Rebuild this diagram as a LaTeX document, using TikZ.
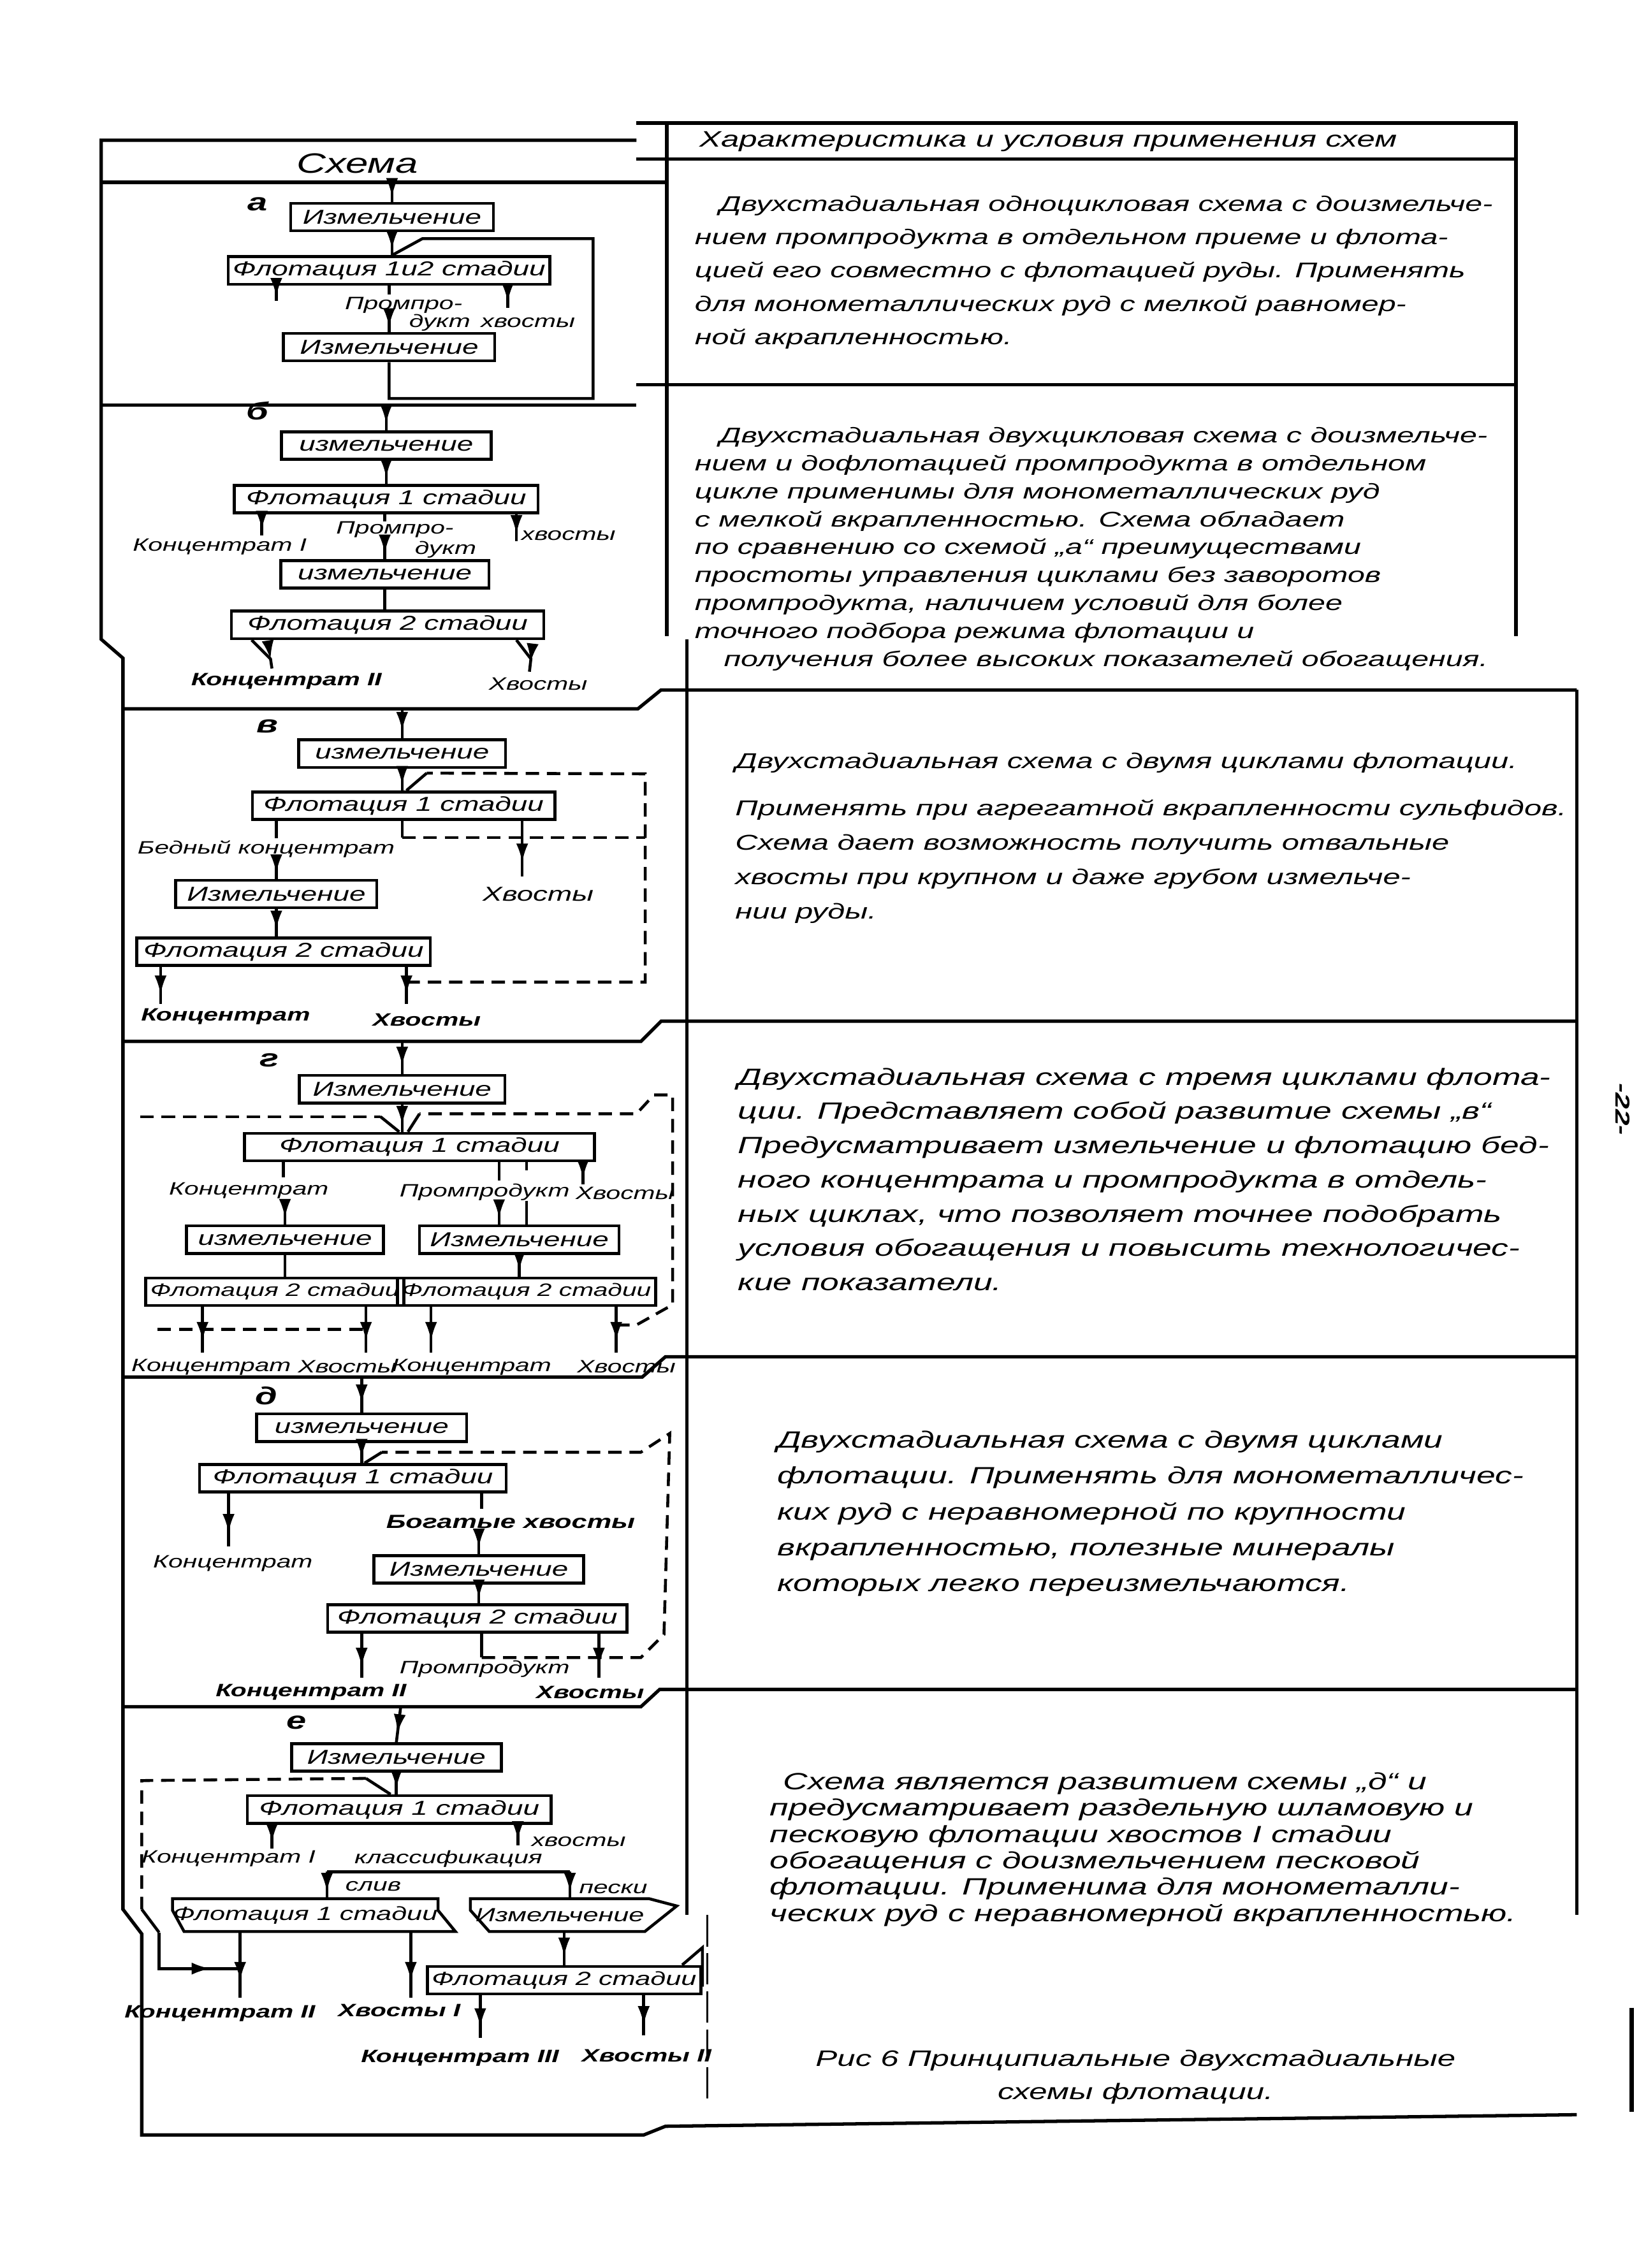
\documentclass[tikz,border=0pt]{standalone}
\usepackage{fontspec}
\setmainfont{Liberation Sans}[FakeStretch=1.45]
\usetikzlibrary{positioning,arrows.meta,calc,decorations.markings}
\newcommand\uu{0.0227cm}

\begin{document}
\begin{tikzpicture}[
  x=0.0227cm, y=-0.0227cm,
  font=\itshape\fontsize{9}{10}\selectfont,
  frm/.style={line width=1.5pt},
  ln/.style={line width=1.3pt},
  box/.style={draw,line width=1.3pt,inner xsep=2pt,inner ysep=0pt,
              minimum height={19*\uu}},
  lbl/.style={inner sep=0pt,align=left,font=\itshape\fontsize{8}{9}\selectfont},
  txt/.style={anchor=north west,inner sep=0pt,align=left},
  ar/.style={ln,postaction={decorate},
             decoration={markings,mark=at position 0.75 with
             {\arrow{Latex[length=3mm,width=1.9mm]}}}},
  rc/.style={ln,dash pattern=on 6pt off 3.5pt},
  tag/.style={inner sep=0pt,font=\itshape\bfseries\fontsize{11}{12}\selectfont}
]
\useasboundingbox (0,0) rectangle (1133,1568);

% table frame
\draw[frm] (440,97) -- (70,97) -- (70,442) -- (85,455) -- (85,1320) -- (98,1337)
  -- (98,1476) -- (445,1476) -- (460,1470) -- (1090,1462);
\draw[frm] (440,85) -- (1048,85) -- (1048,440);
\draw[frm] (440,110) -- (1048,110);
\draw[frm] (70,126) -- (461,126);
\draw[frm] (461,85) -- (461,440);
\draw[frm] (475,442) -- (475,1324);
\draw[line width=0.8pt,dash pattern=on 14pt off 3pt] (489,1324) -- (489,1455);
\draw[frm] (1090,477) -- (1090,1324);
\draw[frm] (70,280) -- (440,280);
\draw[frm] (440,266) -- (1048,266);
\draw[frm] (85,490) -- (441,490) -- (457,477) -- (1090,477);
\draw[frm] (85,720) -- (443,720) -- (457,706) -- (1090,706);
\draw[frm] (85,952) -- (444,952) -- (460,938) -- (1090,938);
\draw[frm] (85,1180) -- (443,1180) -- (456,1168) -- (1090,1168);
\draw[line width=2pt] (1128,1388) -- (1128,1460);

% header
\node[font=\itshape\fontsize{12.5}{14}\selectfont] (hs) at (247,113) {Схема};
\node[anchor=west,font=\itshape\fontsize{10}{12}\selectfont] (hc) at (478,98)
  {Характеристика и условия применения схем};
\node[rotate=-90,font=\itshape\bfseries\fontsize{9}{10}\selectfont] (pg) at (1122,767) {-22-};

% scheme a
\node[tag] (ta) at (178,141) {а};
\coordinate (aIn) at (271,127);
\node[box,minimum width={140*\uu}] (a1) at (271,150) {Измельчение};
\node[box,minimum width={215*\uu}] (a2) at (269,187) {Флотация 1и2 стадии};
\node[box,minimum width={146*\uu}] (a3) at (269,240) {Измельчение};
\node[lbl] (aP) at (279,211) {Промпро-};
\node[lbl] (aD) at (304,223) {дукт};
\node[lbl] (aX) at (365,223) {хвосты};
\coordinate (aR) at (410,165);
\coordinate (aK) at (191,208);
\coordinate (aXa) at (351,213);
\draw[ar] (aIn) -- (a1.north);
\draw[ar] (a1) -- (a1 |- a2.north);
\draw[ar] (aK |- a2.south) -- (aK);
\draw[ar] (aXa |- a2.south) -- (aXa);
\draw[ln] (a2.south -| a3) -- ++(0,6);
\draw[ar] (a3 |- aD.north) -- (a3.north);
\draw[ln] (a3.south) -- ++(0,25) -| (aR) -- ++(-118,0) -- ($(a2.north)+(2,0)$);

% scheme b
\node[tag] (tb) at (178,284) {б};
\coordinate (bIn) at (267,280);
\node[box,minimum width={145*\uu}] (b1) at (267,308) {измельчение};
\node[box,minimum width={210*\uu}] (b2) at (267,345) {Флотация 1 стадии};
\node[lbl] (bK) at (152,378) {Концентрат I};
\node[lbl] (bP) at (273,366) {Промпро-};
\node[lbl] (bD) at (308,380) {дукт};
\node[lbl] (bX) at (393,370) {хвосты};
\node[box,minimum width={144*\uu}] (b3) at (266,397) {измельчение};
\node[box,minimum width={216*\uu}] (b4) at (268,432) {Флотация 2 стадии};
\node[lbl,font=\itshape\bfseries\fontsize{8}{9}\selectfont] (bK2) at (198,471) {Концентрат II};
\node[lbl] (bX2) at (372,473) {Хвосты};
\coordinate (bk) at (181,370);
\coordinate (bx) at (357,374);
\draw[ar] (bIn) -- (b1.north);
\draw[ar] (b1) -- (b1 |- b2.north);
\draw[ar] (bk |- b2.south) -- (bk);
\draw[ar] (bx |- b2.south) -- (bx);
\draw[ln] (b2.south -| b3) -- ++(0,5);
\draw[ar] (b3 |- bP.south) -- (b3.north);
\draw[ln] (b3) -- (b3 |- b4.north);
\draw[ar] ($(b4.south west)+(15,0)$) -- ++(13,13) -- ($(bK2.north)+(-10,-3)$);
\draw[ar] ($(b4.south east)+(-20,0)$) -- ++(10,13) -- ($(bX2.north)+(-6,-4)$);

% scheme v
\node[tag] (tv) at (185,502) {в};
\coordinate (cIn) at (278,490);
\node[box,minimum width={143*\uu}] (c1) at (278,521) {измельчение};
\node[box,minimum width={209*\uu}] (c2) at (279,557) {Флотация 1 стадии};
\node[lbl] (cB) at (184,587) {Бедный концентрат};
\node[lbl,font=\itshape\fontsize{9}{10}\selectfont] (cX) at (372,618) {Хвосты};
\node[box,minimum width={139*\uu}] (c3) at (191,618) {Измельчение};
\node[box,minimum width={203*\uu}] (c4) at (196,658) {Флотация 2 стадии};
\node[lbl,font=\itshape\bfseries\fontsize{8}{9}\selectfont] (cK) at (156,703) {Концентрат};
\node[lbl,font=\itshape\bfseries\fontsize{8}{9}\selectfont] (cX2) at (295,705) {Хвосты};
\coordinate (cR) at (446,579);
\coordinate (cR1) at (446,535);
\coordinate (cR2) at (446,679);
\coordinate (cx) at (361,606);
\coordinate (ck) at (111,694);
\coordinate (cx2) at (281,694);
\draw[ar] (cIn) -- (c1.north);
\draw[ar] (c1) -- (c1 |- c2.north);
\draw[ln] (c3 |- c2.south) -- ++(0,12);
\draw[ar] (c3 |- cB.south) -- (c3.north);
\draw[ar] (c3) -- (c3 |- c4.north);
\draw[ar] (cx |- c2.south) -- (cx);
\draw[ln] (c1 |- c2.south) -- (c1 |- cR);
\draw[rc] (c1 |- cR) -- (cR);
\draw[rc] (cx2 |- cR2) -- (cR2) -- (cR1) -- ($(c2.north)+(16,-12)$);
\draw[ln] ($(c2.north)+(16,-12)$) -- ($(c2.north)+(2,0)$);
\draw[ar] (ck |- c4.south) -- (ck);
\draw[ar] (cx2 |- c4.south) -- (cx2);

% scheme g
\node[tag] (tg) at (186,733) {г};
\coordinate (dIn) at (278,720);
\node[box,minimum width={142*\uu}] (d1) at (278,753) {Измельчение};
\node[box,minimum width={242*\uu}] (d2) at (290,793) {Флотация 1 стадии};
\node[lbl] (dK) at (172,823) {Концентрат};
\node[lbl] (dP) at (335,824) {Промпродукт};
\node[lbl] (dX) at (432,825) {Хвосты};
\node[box,minimum width={136*\uu}] (d3) at (197,857) {измельчение};
\node[box,minimum width={138*\uu}] (d4) at (359,857) {Измельчение};
\node[box,minimum width={163*\uu},font=\itshape\fontsize{8}{9}\selectfont] (d5) at (190,893) {Флотация 2 стадии};
\node[box,minimum width={165*\uu},font=\itshape\fontsize{8}{9}\selectfont] (d6) at (364,893) {Флотация 2 стадии};
\node[lbl] (dK2) at (146,945) {Концентрат};
\node[lbl] (dX2) at (240,945) {Хвосты};
\node[lbl] (dK3) at (326,945) {Концентрат};
\node[lbl] (dX3) at (433,945) {Хвосты};
\coordinate (dL) at (97,772);
\coordinate (dR) at (440,770);
\coordinate (dk) at (196,814);
\coordinate (dp) at (345,816);
\coordinate (dq) at (364,809);
\coordinate (dx) at (403,819);
\coordinate (dk2) at (140,935);
\coordinate (dx2) at (253,935);
\coordinate (dk3) at (298,935);
\coordinate (dx3) at (426,935);
\draw[ar] (dIn) -- (d1.north);
\draw[ar] (d1) -- (d1 |- d2.north);
\draw[rc] (dL) -- (263,772);
\draw[ln] (263,772) -- ($(d2.north)+(-14,0)$);
\draw[rc] (dx3 |- 0,916) -- (440,916) -- (465,902) -- (465,757) -- (452,757) -- (dR) -- (290,770);
\draw[ln] (290,770) -- ($(d2.north)+(-8,0)$);
\draw[ln] (dk |- d2.south) -- (dk);
\draw[ar] (d3 |- dK.south) -- (d3.north);
\draw[ln] (dp |- d2.south) -- (dp);
\draw[ln] (dq |- d2.south) -- (dq);
\draw[ar] (dp |- dP.south) -- (dp |- d4.north);
\draw[ln] (dq |- dP.south) -- (dq |- d4.north);
\draw[ar] (dx |- d2.south) -- (dx);
\draw[ln] (d3) -- (d3 |- d5.north);
\draw[ar] (d4) -- (d4 |- d6.north);
\draw[ar] (dk2 |- d5.south) -- (dk2);
\draw[ar] (dx2 |- d5.south) -- (dx2);
\draw[rc] (109,919) -- (dx2 |- 0,919);
\draw[ar] (dk3 |- d6.south) -- (dk3);
\draw[ar] (dx3 |- d6.south) -- (dx3);

% scheme d
\node[tag] (td) at (184,965) {д};
\coordinate (eIn) at (250,952);
\node[box,minimum width={145*\uu}] (e1) at (250,987) {измельчение};
\node[box,minimum width={212*\uu}] (e2) at (244,1022) {Флотация 1 стадии};
\node[lbl] (eK) at (161,1081) {Концентрат};
\node[lbl,font=\itshape\bfseries\fontsize{8.5}{9}\selectfont] (eB) at (353,1052) {Богатые хвосты};
\node[box,minimum width={145*\uu}] (e3) at (331,1085) {Измельчение};
\node[box,minimum width={207*\uu}] (e4) at (330,1119) {Флотация 2 стадии};
\node[lbl] (eP) at (335,1154) {Промпродукт};
\node[lbl,font=\itshape\bfseries\fontsize{8}{9}\selectfont] (eK2) at (215,1170) {Концентрат II};
\node[lbl,font=\itshape\bfseries\fontsize{8}{9}\selectfont] (eX) at (408,1170) {Хвосты};
\coordinate (ek) at (158,1069);
\coordinate (eb) at (333,1043);
\coordinate (ek2) at (250,1160);
\coordinate (ex) at (414,1160);
\coordinate (eR) at (443,1146);
\draw[ar] (eIn) -- (e1.north);
\draw[ar] (e1) -- (e1 |- e2.north);
\draw[ar] (ek |- e2.south) -- (ek);
\draw[ln] (eb |- e2.south) -- (eb);
\draw[ar] (e3 |- eB.south) -- (e3.north);
\draw[ar] (e3) -- (e3 |- e4.north);
\draw[ar] (ek2 |- e4.south) -- (ek2);
\draw[ar] (ex |- e4.south) -- (ex);
\draw[ln] (eb |- e4.south) -- (eb |- eR);
\draw[rc] (eb |- eR) -- (eR) -- (459,1130) -- (463,991) -- (443,1004) -- (264,1004);
\draw[ln] (264,1004) -- ($(e2.north)+(8,0)$);

% scheme e
\node[tag] (te) at (205,1191) {е};
\coordinate (fIn) at (277,1180);
\node[box,minimum width={145*\uu}] (f1) at (274,1215) {Измельчение};
\node[box,minimum width={210*\uu}] (f2) at (276,1251) {Флотация 1 стадии};
\node[lbl] (fK) at (158,1285) {Концентрат I};
\node[lbl] (fX) at (400,1273) {хвосты};
\node[lbl] (fC) at (310,1285) {классификация};
\node[lbl] (fS) at (258,1304) {слив};
\node[lbl] (fP) at (424,1306) {пески};
\node[lbl,font=\itshape\fontsize{8.5}{9}\selectfont,minimum width={172*\uu},minimum height={22*\uu}] (f3) at (211,1324) {Флотация 1 стадии};
\node[lbl,font=\itshape\fontsize{8.5}{9}\selectfont,minimum width={123*\uu},minimum height={22*\uu}] (f4) at (387,1324) {Измельчение};
\node[box,minimum width={157*\uu},font=\itshape\fontsize{8.5}{9}\selectfont] (f5) at (390,1369) {Флотация 2 стадии};
\node[lbl,font=\itshape\bfseries\fontsize{8}{9}\selectfont] (fK2) at (152,1392) {Концентрат II};
\node[lbl,font=\itshape\bfseries\fontsize{8}{9}\selectfont] (fX1) at (276,1390) {Хвосты I};
\node[lbl,font=\itshape\bfseries\fontsize{8}{9}\selectfont] (fK3) at (318,1423) {Концентрат III};
\node[lbl,font=\itshape\bfseries\fontsize{8}{9}\selectfont] (fX2) at (447,1421) {Хвосты II};
\draw[ln] (f3.north west) -- (f3.north east) -- ++(0,8) -- ($(f3.south east)+(12,0)$)
  -- ($(f3.south west)+(8,0)$) -- ($(f3.north west)+(0,8)$) -- cycle;
\draw[ln] (f4.north west) -- (f4.north east) -- ($(f4.north east)+(19,5)$)
  -- ($(f4.south east)+(-3,0)$) -- ($(f4.south west)+(13,0)$) -- ($(f4.north west)+(0,8)$) -- cycle;
\draw[ln] ($(f5.north east)+(-14,0)$) -- ++(14,-12) -- ($(f5.south east)+(0,-6)$);
\coordinate (fk) at (188,1278);
\coordinate (fx) at (358,1276);
\coordinate (fc1) at (226,1294);
\coordinate (fc2) at (394,1294);
\coordinate (fk2) at (166,1381);
\coordinate (fx1) at (284,1381);
\coordinate (fk3) at (332,1409);
\coordinate (fx2) at (445,1407);
\coordinate (fLa) at (98,1231);
\coordinate (fLb) at (98,1320);
\coordinate (fLc) at (110,1336);
\coordinate (fLd) at (110,1361);
\draw[ar] (fIn) -- (f1.north);
\draw[ar] (f1) -- (f1 |- f2.north);
\draw[ar] (fk |- f2.south) -- (fk);
\draw[ar] (fx |- f2.south) -- (fx);
\draw[ln] (fc1) -- (fc2);
\draw[ar] (fc1) -- (fc1 |- f3.north);
\draw[ar] (fc2) -- (fc2 |- f4.north);
\draw[rc] ($(f2.north)+(-23,-11)$) -- (fLa) -- (fLb);
\draw[ln] (fLb) -- (fLc);
\draw[ar] (fLc) -- (fLd) -- (fLd -| fk2);
\draw[ln] ($(f2.north)+(-23,-11)$) -- ($(f2.north)+(-6,0)$);
\draw[ar] (fk2 |- f3.south) -- (fk2);
\draw[ar] (fx1 |- f3.south) -- (fx1);
\draw[ar] (f5 |- f4.south) -- (f5.north);
\draw[ar] (fk3 |- f5.south) -- (fk3);
\draw[ar] (fx2 |- f5.south) -- (fx2);

% descriptions
\node[txt,font=\itshape\fontsize{9.5}{14.9}\selectfont] (ra) at (480,135)
 {\hspace*{11pt}Двухстадиальная одноцикловая схема с доизмельче-\\
  нием промпродукта в отдельном приеме и флота-\\
  цией его совместно с флотацией руды. Применять\\
  для монометаллических руд с мелкой равномер-\\
  ной акрапленностью.};
\node[txt,font=\itshape\fontsize{9.5}{12.5}\selectfont] (rb) at (480,295)
 {\hspace*{11pt}Двухстадиальная двухцикловая схема с доизмельче-\\
  нием и дофлотацией промпродукта в отдельном\\
  цикле применимы для монометаллических руд\\
  с мелкой вкрапленностью. Схема обладает\\
  по сравнению со схемой „а“ преимуществами\\
  простоты управления циклами без заворотов\\
  промпродукта, наличием условий для более\\
  точного подбора режима флотации и\\
  \hspace*{13pt}получения более высоких показателей обогащения.};
\node[txt,font=\itshape\fontsize{9.6}{15.3}\selectfont] (rv) at (508,520)
 {Двухстадиальная схема с двумя циклами флотации.\\[6pt]
  Применять при агрегатной вкрапленности сульфидов.\\
  Схема дает возможность получить отвальные\\
  хвосты при крупном и даже грубом измельче-\\
  нии руды.};
\node[txt,font=\itshape\fontsize{10.5}{15.3}\selectfont] (rg) at (510,738)
 {Двухстадиальная схема с тремя циклами флота-\\
  ции. Представляет собой развитие схемы „в“\\
  Предусматривает измельчение и флотацию бед-\\
  ного концентрата и промпродукта в отдель-\\
  ных циклах, что позволяет точнее подобрать\\
  условия обогащения и повысить технологичес-\\
  кие показатели.};
\node[txt,font=\itshape\fontsize{10.5}{16}\selectfont] (rd) at (537,989)
 {Двухстадиальная схема с двумя циклами\\
  флотации. Применять для монометалличес-\\
  ких руд с неравномерной по крупности\\
  вкрапленностью, полезные минералы\\
  которых легко переизмельчаются.};
\node[txt,font=\itshape\fontsize{10.5}{11.8}\selectfont] (re) at (532,1225)
 {\hspace*{6pt}Схема является развитием схемы „д“ и\\
  предусматривает раздельную шламовую и\\
  песковую флотации хвостов I стадии\\
  обогащения с доизмельчением песковой\\
  флотации. Применима для монометалли-\\
  ческих руд с неравномерной вкрапленностью.};
\node[align=center,font=\itshape\fontsize{10}{15}\selectfont] (cap) at (785,1436)
 {Рис 6 Принципиальные двухстадиальные\\схемы флотации.};
\end{tikzpicture}
\end{document}
